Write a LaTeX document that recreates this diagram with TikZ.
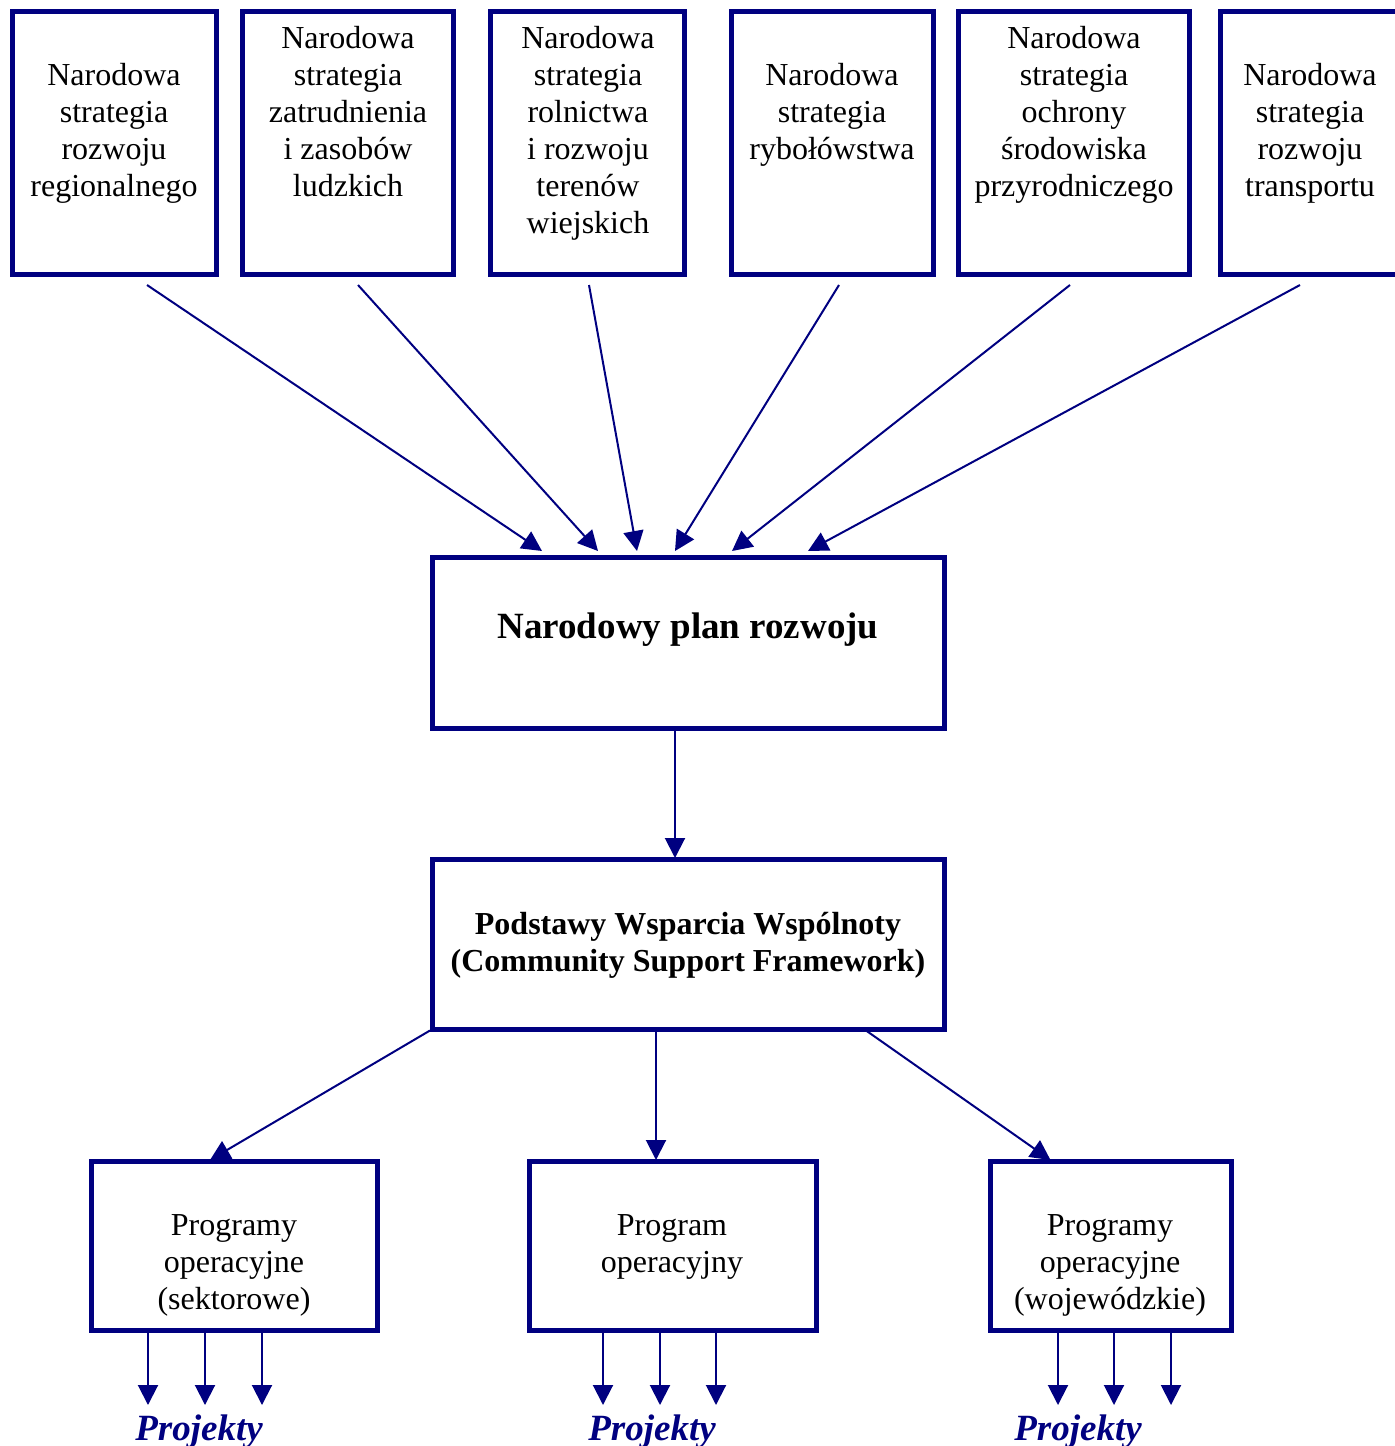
\documentclass[tikz,border=0pt]{standalone}
\usepackage{fontspec}
\setmainfont{Liberation Serif}
\usetikzlibrary{arrows.meta}
\definecolor{navy}{RGB}{0,0,128}
\begin{document}
\begin{tikzpicture}[x=0.5pt,y=-0.5pt,
  box/.style={draw=navy, line width=2.5pt, inner sep=0pt, outer sep=0pt, anchor=north west, fill=white},
  txt/.style={inner sep=0pt, align=center, anchor=north, font=\fontsize{16}{18.5}\selectfont, text=black},
  arr/.style={draw=navy, line width=1pt, -{Triangle[length=10pt,width=10pt]}},
  proj/.style={inner sep=0pt, anchor=base, text=navy, font=\fontsize{18.5}{20}\selectfont\bfseries\itshape}]
\useasboundingbox (0,0) rectangle (1394,1446);
% top boxes
\node[box, minimum width=102pt, minimum height=131.5pt] (t1) at (12,11.5) {};
\node[box, minimum width=105.75pt, minimum height=131.5pt] (t2) at (242,11.5) {};
\node[box, minimum width=97pt, minimum height=131.5pt] (t3) at (490.5,11.5) {};
\node[box, minimum width=101pt, minimum height=131.5pt] (t4) at (731,11.5) {};
\node[box, minimum width=115.5pt, minimum height=131.5pt] (t5) at (958.5,11.5) {};
\node[box, minimum width=89.75pt, minimum height=131.5pt] (t6) at (1220.5,11.5) {};
\node[txt] (t1t) at (114,59) {\strut Narodowa\\strategia\\rozwoju\\regionalnego};
\node[txt] (t2t) at (348,22) {\strut Narodowa\\strategia\\zatrudnienia\\i zasobów\\ludzkich};
\node[txt] (t3t) at (588,22) {\strut Narodowa\\strategia\\rolnictwa\\i rozwoju\\terenów\\wiejskich};
\node[txt] (t4t) at (832,59) {\strut Narodowa\\strategia\\rybołówstwa};
\node[txt] (t5t) at (1074,22) {\strut Narodowa\\strategia\\ochrony\\środowiska\\przyrodniczego};
\node[txt] (t6t) at (1310,59) {\strut Narodowa\\strategia\\rozwoju\\transportu};
% central boxes
\node[box, minimum width=256pt, minimum height=85.5pt] (npr) at (432,557) {};
\node[inner sep=0pt, anchor=base, font=\fontsize{18.5}{21}\selectfont\bfseries] (nprt) at (688,638) {Narodowy plan rozwoju};
\node[box, minimum width=256pt, minimum height=85pt] (pww) at (432,859) {};
\node[txt, font=\fontsize{16}{18.5}\selectfont\bfseries] (pwwt) at (688,908) {\strut Podstawy Wsparcia Wspólnoty\\(Community Support Framework)};
% bottom boxes
\node[box, minimum width=143pt, minimum height=84.5pt] (b1) at (91,1161) {};
\node[box, minimum width=143.5pt, minimum height=84.5pt] (b2) at (529,1161) {};
\node[box, minimum width=120.5pt, minimum height=84.5pt] (b3) at (990,1161) {};
\node[txt] (b1t) at (234,1209) {\strut Programy\\operacyjne\\(sektorowe)};
\node[txt] (b2t) at (672,1209) {\strut Program\\operacyjny};
\node[txt] (b3t) at (1110,1209) {\strut Programy\\operacyjne\\(wojewódzkie)};
% projekty
\node[proj] (p1) at (199,1440) {Projekty};
\node[proj] (p2) at (652,1440) {Projekty};
\node[proj] (p3) at (1078,1440) {Projekty};
% top arrows
\draw[arr] ([shift={(33,10.5)}]t1.south) -- ([shift={(-146,-6)}]npr.north);
\draw[arr] ([shift={(10.25,10.5)}]t2.south) -- ([shift={(-90,-6)}]npr.north);
\draw[arr] ([shift={(1.5,10.5)}]t3.south) -- ([shift={(-51,-6)}]npr.north);
\draw[arr] ([shift={(7,10.5)}]t4.south) -- ([shift={(-13,-6)}]npr.north);
\draw[arr] ([shift={(-4,10.5)}]t5.south) -- ([shift={(44,-6)}]npr.north);
\draw[arr] ([shift={(-10.25,10.5)}]t6.south) -- ([shift={(120,-6)}]npr.north);
% middle
\draw[arr] ([shift={(-13,1.5)}]npr.south) -- ([shift={(-13,-1)}]pww.north);
\draw[arr] ([shift={(-32,1.5)}]pww.south) -- ([shift={(-16.5,-1)}]b2.north);
\draw[arr] ([shift={(-2,1.5)}]pww.south west) -- ([shift={(-24,-1)}]b1.north);
\draw[arr] ([shift={(178,1.5)}]pww.south) -- ([shift={(-60,-1)}]b3.north);
% bottom arrows
\foreach \dx in {-86,-29,28} \draw[arr] ([shift={(\dx,1.5)}]b1.south) -- ++(0,73.5);
\foreach \dx in {-69.5,-12.5,43.5} \draw[arr] ([shift={(\dx,1.5)}]b2.south) -- ++(0,73.5);
\foreach \dx in {-52.5,3.5,60.5} \draw[arr] ([shift={(\dx,1.5)}]b3.south) -- ++(0,73.5);
\end{tikzpicture}
\end{document}
